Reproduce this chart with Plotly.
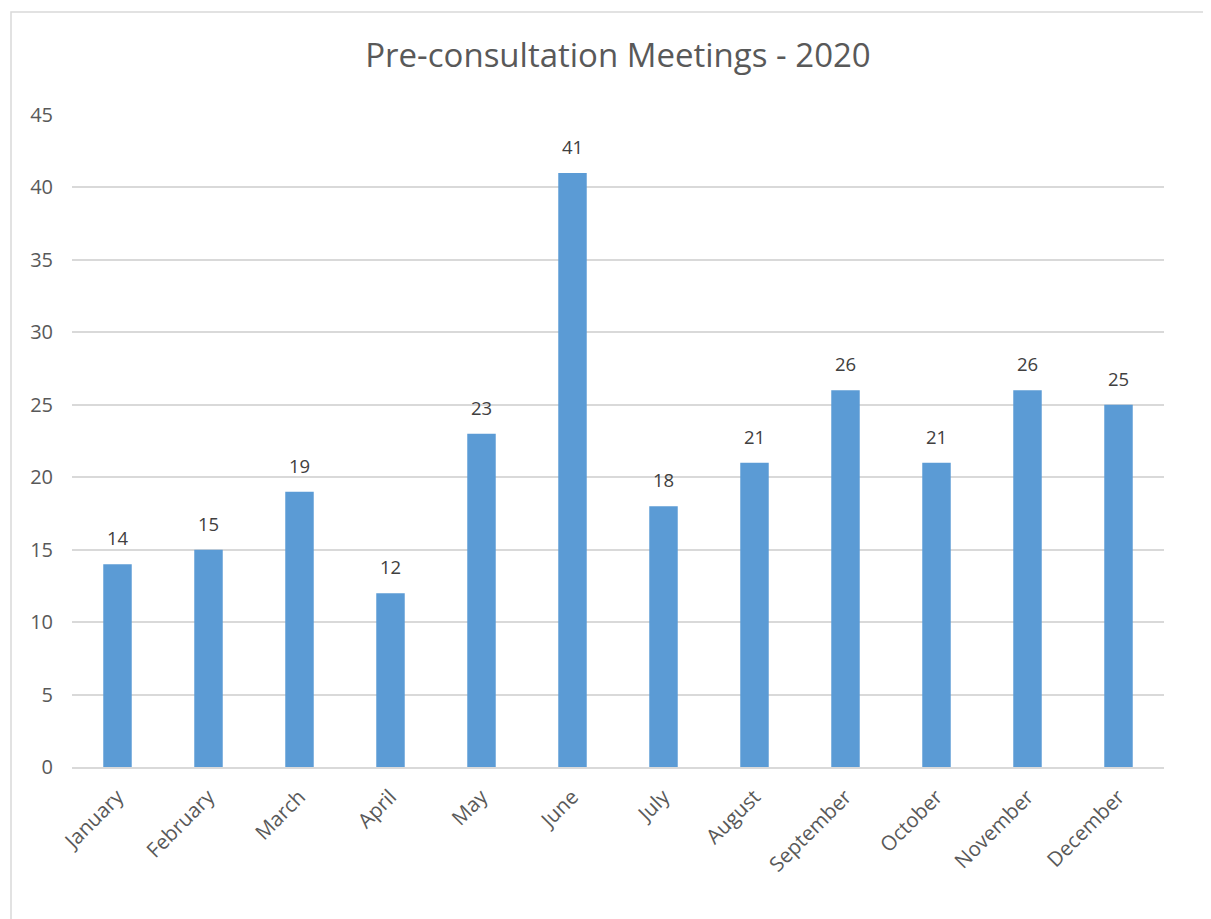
import plotly.graph_objects as go

months = ["January", "February", "March", "April", "May", "June", "July",
          "August", "September", "October", "November", "December"]
meetings = [14, 15, 19, 12, 23, 41, 18, 21, 26, 21, 26, 25]
title_text = "Pre-consultation Meetings - 2020"

# page has an 8px body margin, so the figure starts at (8, 8)
W, H = 1203, 911
L, R, T, B = 64, 47, 107, 152
pw, ph = W - L - R, H - T - B

fig = go.Figure(go.Bar(
    x=months, y=meetings,
    marker=dict(color="#5B9BD5", line=dict(width=0)),
    cliponaxis=False,
))

for m, v in zip(months, meetings):
    fig.add_annotation(x=m, y=v, text=str(v), showarrow=False,
                       yanchor="bottom", yshift=12,
                       font=dict(family="Open Sans", size=18.5, color="#404040"))

fig.update_layout(
    width=W, height=H,
    margin=dict(l=L, r=R, t=T, b=B),
    paper_bgcolor="white", plot_bgcolor="white",
    bargap=0.687,
    showlegend=False,
    title=dict(text=title_text, x=0.5, xref="paper", xanchor="center",
               y=1 - 47 / H, yanchor="middle",
               font=dict(family="Open Sans", size=33, color="#595959")),
    font=dict(family="Open Sans", color="#595959"),
    xaxis=dict(tickangle=-45, showgrid=False, showline=True,
               linecolor="#d9d9d9", linewidth=1.5, ticks="",
               ticklabelstandoff=8,
               tickfont=dict(size=20.5, color="#595959")),
    yaxis=dict(range=[0, 45], dtick=5, showgrid=True, gridcolor="#d9d9d9",
               gridwidth=1.5, zeroline=False, showline=False, ticks="",
               ticklabelstandoff=18,
               tickfont=dict(size=20, color="#595959")),
)

# chart border (Excel chart area outline)
fig.add_shape(type="rect", xref="paper", yref="paper",
              x0=(3 - L) / pw, x1=1.3, y0=-0.5, y1=(H - B - 4) / ph,
              line=dict(color="#d9d9d9", width=1.5), layer="below")

fig.write_html("out.html")
